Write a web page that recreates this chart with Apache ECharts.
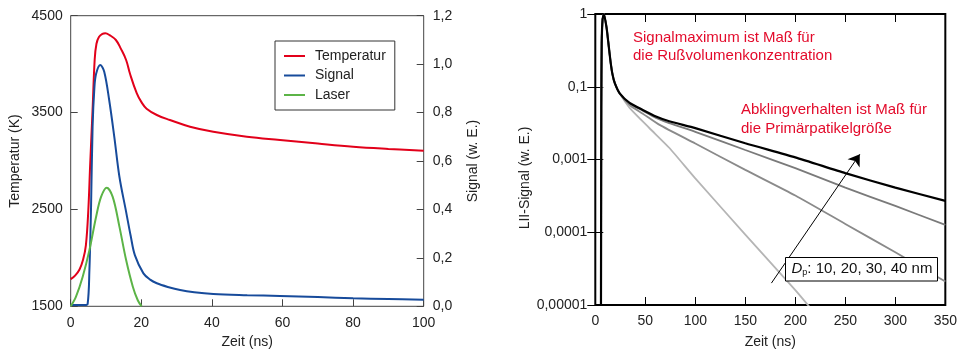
<!DOCTYPE html>
<html>
<head>
<meta charset="utf-8">
<script src="https://cdn.jsdelivr.net/npm/echarts@6/dist/echarts.min.js"></script>
<style>
  html, body { margin: 0; padding: 0; background: #fff; }
  #chart { width: 960px; height: 356px; }
</style>
</head>
<body>
<div id="chart"></div>
<script>
// left panel: temperature, signal and laser pulse
const tempTime = [0, 1.3, 2.5, 3.5, 4.3, 5.0, 5.5, 6.2, 6.8, 7.3, 8.0, 9.0, 9.8, 11, 12.8, 14.2, 15.7, 16.8, 18.7, 20, 21.5, 24.4, 28.1, 33.8, 40.4, 49.9, 59.3, 70, 80, 90, 100];
const tempK = [1780, 1820, 1880, 1980, 2130, 2500, 2950, 3530, 4050, 4210, 4280, 4312, 4318, 4300, 4249, 4160, 4043, 3900, 3700, 3610, 3540, 3475, 3423, 3354, 3302, 3251, 3217, 3180, 3148, 3125, 3106];

const sigTime = [0, 4.0, 4.8, 5.3, 5.75, 6.2, 6.7, 7.2, 8.4, 9.5, 10.9, 12.35, 13.8, 15.7, 17.0, 18.2, 20.6, 22.5, 24.4, 27.5, 31, 35, 40.4, 50, 59.3, 70, 80, 90, 100];
const sigVal = [0.005, 0.005, 0.01, 0.15, 0.40, 0.74, 0.90, 0.96, 0.996, 0.969, 0.852, 0.70, 0.535, 0.39, 0.29, 0.21, 0.136, 0.11, 0.095, 0.08, 0.067, 0.058, 0.051, 0.046, 0.0425, 0.038, 0.033, 0.030, 0.027];

const laserTime = [0, 1.5, 3.4, 5.3, 7.2, 8.6, 10.2, 11.9, 13.8, 15.7, 17.6, 19.0, 20.1];
const laserVal = [0, 0.04, 0.122, 0.232, 0.37, 0.452, 0.49, 0.452, 0.329, 0.191, 0.081, 0.025, 0];

const tempTicks = [1500, 2500, 3500, 4500];

// right panel: LII decay for primary particle sizes
const riseTime = [5.6, 5.8, 6.0, 6.4, 7.3, 8.6, 11.3, 12.9, 15.2, 17.2, 19.5, 24.4];
const riseLII = [0.00003, 0.001, 0.05, 0.4, 0.85, 1.0, 0.645, 0.42, 0.224, 0.148, 0.112, 0.081];

const tail10Time = [34.3, 54, 73.9, 100, 150, 200, 222];
const tail10 = [0.0513, 0.0271, 0.0145, 0.0055, 0.00093, 0.00016, 0.00007];
const tail20Time = [34.3, 47.5, 60.7, 73.9, 100, 150, 200, 250, 300, 350];
const tail20 = [0.0589, 0.0468, 0.0372, 0.0316, 0.024, 0.0135, 0.0076, 0.0041, 0.0023, 0.00126];
const tail30Time = [34.3, 47.5, 64.3, 100, 150, 200, 250, 300, 350];
const tail30 = [0.0562, 0.0427, 0.0299, 0.0166, 0.0072, 0.0032, 0.0013, 0.00053, 0.00021];
const tail40Time = [34.3, 47.5, 60.7, 73.9, 100, 150, 200, 250, 300, 350];
const tail40 = [0.060, 0.048, 0.039, 0.0335, 0.027, 0.0167, 0.0107, 0.0065, 0.0041, 0.0027];

const liiTickLabels = ['0,00001', '0,0001', '0,001', '0,1', '1'];

const zip = (xs, ys) => xs.map((x, i) => [x, ys[i]]);
const lii = (t, v) => zip(riseTime.concat(t), riseLII.concat(v));

const font = 'Liberation Sans, Arial, Helvetica, sans-serif';
const labelStyle = { fontSize: 14, color: '#222', fontFamily: font };
const leftLine = { color: '#444', width: 1 };
const rightLine = { color: '#000', width: 1 };

const chart = echarts.init(document.getElementById('chart'));

chart.setOption({
  animation: false,
  textStyle: { fontFamily: font },
  grid: [
    { left: 70.7, top: 15.7, width: 353, height: 290.6, show: true, borderColor: '#444', borderWidth: 1 },
    { left: 595.3, top: 14, width: 353.7, height: 291, show: true, borderColor: '#000', borderWidth: 2 }
  ],
  legend: {
    data: ['Temperatur', 'Signal', 'Laser'],
    left: 275, top: 41,
    orient: 'vertical',
    icon: 'rect',
    itemWidth: 21, itemHeight: 2, itemGap: 5.5,
    padding: [8, 9, 8, 9],
    borderColor: '#333', borderWidth: 1,
    textStyle: { fontSize: 14, color: '#222', lineHeight: 14, padding: [0, 0, 0, 5] }
  },
  xAxis: [
    {
      type: 'value', gridIndex: 0, min: 0, max: 100, interval: 20,
      name: 'Zeit (ns)', nameLocation: 'middle', nameGap: 29, nameTextStyle: labelStyle,
      axisLine: { show: false },
      axisTick: { inside: true, length: 7, lineStyle: leftLine },
      axisLabel: Object.assign({ margin: 10 }, labelStyle),
      splitLine: { show: false }
    },
    {
      type: 'value', gridIndex: 1, min: 0, max: 350, interval: 50,
      name: 'Zeit (ns)', nameLocation: 'middle', nameGap: 30, nameTextStyle: labelStyle,
      axisLine: { show: false },
      axisTick: { inside: true, length: 8, lineStyle: rightLine },
      axisLabel: Object.assign({ margin: 9 }, labelStyle),
      splitLine: { show: false }
    },
    {
      type: 'value', gridIndex: 1, position: 'top', min: 0, max: 350, interval: 50,
      axisLine: { show: false },
      axisTick: { inside: true, length: 8, lineStyle: rightLine },
      axisLabel: { show: false },
      splitLine: { show: false }
    }
  ],
  yAxis: [
    {
      type: 'value', gridIndex: 0, position: 'left', min: 1500, max: 4500,
      name: 'Temperatur (K)', nameLocation: 'middle', nameGap: 49, nameTextStyle: labelStyle,
      axisLine: { show: false },
      axisTick: { inside: true, length: 7, customValues: tempTicks, lineStyle: leftLine },
      axisLabel: Object.assign({ margin: 8, customValues: tempTicks, formatter: v => String(v) }, labelStyle),
      splitLine: { show: false }
    },
    {
      type: 'value', gridIndex: 0, position: 'right', min: 0, max: 1.2, interval: 0.2,
      name: 'Signal (w. E.)', nameLocation: 'middle', nameGap: 42, nameRotate: 90, nameTextStyle: labelStyle,
      axisLine: { show: false },
      axisTick: { inside: true, length: 7, lineStyle: leftLine },
      axisLabel: Object.assign({ margin: 9, formatter: v => v.toFixed(1).replace('.', ',') }, labelStyle),
      splitLine: { show: false }
    },
    {
      type: 'log', logBase: 10, gridIndex: 1, position: 'left', min: 0.0001, max: 1,
      name: 'LII-Signal (w. E.)', nameLocation: 'middle', nameGap: 63,
      nameTextStyle: Object.assign({ padding: [0, 37, 0, 0] }, labelStyle),
      axisLine: { show: false },
      axisTick: { inside: true, length: 8, lineStyle: rightLine },
      axisLabel: Object.assign({ margin: 8, formatter: v => liiTickLabels[Math.round(Math.log10(v)) + 4] }, labelStyle),
      splitLine: { show: false },
      minorTick: { show: false }
    },
    {
      type: 'log', logBase: 10, gridIndex: 1, position: 'right', min: 0.0001, max: 1,
      axisLine: { show: false },
      axisTick: { inside: true, length: 8, lineStyle: rightLine },
      axisLabel: { show: false },
      splitLine: { show: false }
    }
  ],
  series: [
    {
      name: 'Temperatur', type: 'line', xAxisIndex: 0, yAxisIndex: 0,
      data: zip(tempTime, tempK), showSymbol: false, smooth: 0.4,
      lineStyle: { color: '#e2001a', width: 2 }, itemStyle: { color: '#e2001a' }
    },
    {
      name: 'Signal', type: 'line', xAxisIndex: 0, yAxisIndex: 1,
      data: zip(sigTime, sigVal), showSymbol: false, smooth: 0.35,
      lineStyle: { color: '#174b9b', width: 2 }, itemStyle: { color: '#174b9b' }
    },
    {
      name: 'Laser', type: 'line', xAxisIndex: 0, yAxisIndex: 1,
      data: zip(laserTime, laserVal), showSymbol: false, smooth: 0.35,
      lineStyle: { color: '#5cb447', width: 2 }, itemStyle: { color: '#5cb447' }
    },
    {
      name: '10 nm', type: 'line', xAxisIndex: 1, yAxisIndex: 2,
      data: lii(tail10Time, tail10), showSymbol: false, smooth: 0.2,
      lineStyle: { color: '#b5b5b5', width: 1.8 }
    },
    {
      name: '20 nm', type: 'line', xAxisIndex: 1, yAxisIndex: 2,
      data: lii(tail20Time, tail20), showSymbol: false, smooth: 0.2,
      lineStyle: { color: '#7a7a7a', width: 1.8 }
    },
    {
      name: '30 nm', type: 'line', xAxisIndex: 1, yAxisIndex: 2,
      data: lii(tail30Time, tail30), showSymbol: false, smooth: 0.2,
      lineStyle: { color: '#8a8a8a', width: 1.8 }
    },
    {
      name: '40 nm', type: 'line', xAxisIndex: 1, yAxisIndex: 2,
      data: lii(tail40Time, tail40), showSymbol: false, smooth: 0.2,
      lineStyle: { color: '#000', width: 2.2 },
      markLine: {
        silent: true,
        symbol: ['none', 'arrow'],
        symbolSize: 11,
        label: { show: false },
        lineStyle: { color: '#000', width: 1, type: 'solid' },
        data: [[{ coord: [176.1, 0.0002] }, { coord: [264.5, 0.0118] }]]
      }
    }
  ],
  graphic: [
    {
      type: 'text', x: 633, y: 28.7, z: 100,
      style: {
        text: 'Signalmaximum ist Maß für\ndie Rußvolumenkonzentration',
        fill: '#e30b2b', fontSize: 15, fontFamily: font, lineHeight: 18.3,
        verticalAlign: 'top'
      }
    },
    {
      type: 'text', x: 741, y: 101, z: 100,
      style: {
        text: 'Abklingverhalten ist Maß für\ndie Primärpatikelgröße',
        fill: '#e30b2b', fontSize: 15, fontFamily: font, lineHeight: 18.3,
        verticalAlign: 'top'
      }
    },
    {
      type: 'rect', z: 100,
      shape: { x: 785.5, y: 257.5, width: 152, height: 23.5 },
      style: { fill: '#fff', stroke: '#000', lineWidth: 1 }
    },
    {
      type: 'text', x: 791.5, y: 269.3, z: 101,
      style: {
        text: '{d|D}{s|p}{n|: 10, 20, 30, 40 nm}',
        verticalAlign: 'middle',
        rich: {
          d: { fontSize: 15, fontStyle: 'italic', fontFamily: font, fill: '#111', lineHeight: 18 },
          s: { fontSize: 9, fontFamily: font, fill: '#111', lineHeight: 18, verticalAlign: 'bottom', padding: [0, 0, 1, 0] },
          n: { fontSize: 15, fontFamily: font, fill: '#111', lineHeight: 18 }
        }
      }
    }
  ]
});
</script>
</body>
</html>
